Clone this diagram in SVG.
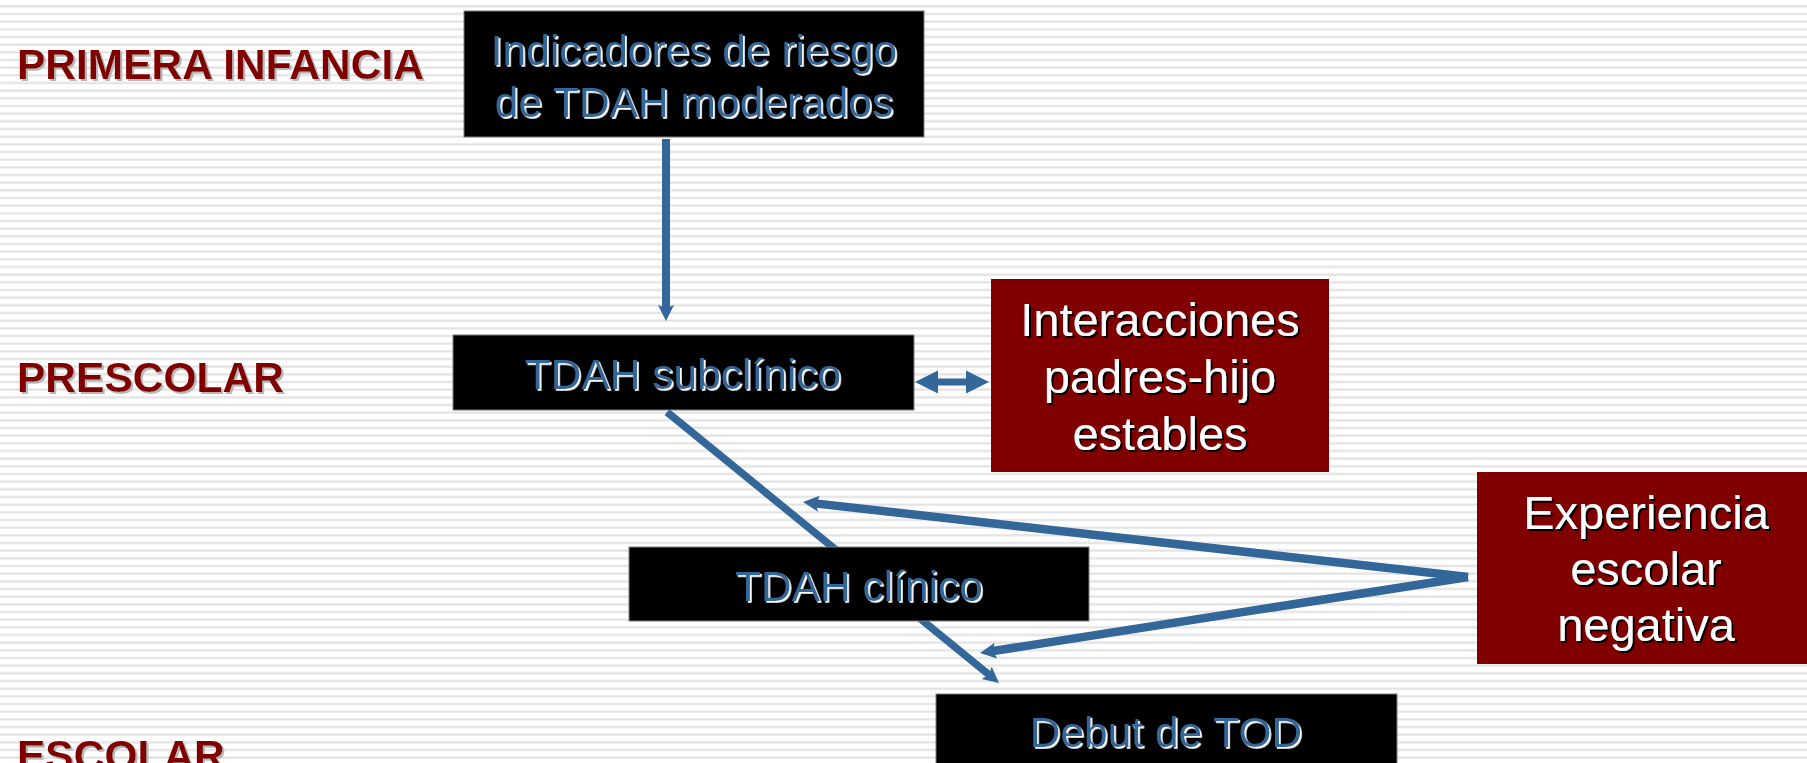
<svg xmlns="http://www.w3.org/2000/svg" width="1807" height="763" viewBox="0 0 1807 763">
  <defs>
    <pattern id="stripes" patternUnits="userSpaceOnUse" width="20" height="7.667" y="0">
      <rect x="0" y="0" width="20" height="7.667" fill="#ffffff"/>
      <rect x="0" y="5.2" width="20" height="2.2" fill="#e2e2e2"/>
    </pattern>
    <marker id="ah" markerUnits="userSpaceOnUse" markerWidth="20" markerHeight="20" refX="6" refY="8" orient="auto">
      <path d="M0,0 L16,8 L0,16 L3,8 Z" fill="#336699"/>
    </marker>
    <filter id="shW" x="-5%" y="-5%" width="110%" height="120%">
      <feDropShadow dx="1.8" dy="1.8" stdDeviation="0" flood-color="#ffffff" flood-opacity="1"/>
    </filter>
    <filter id="shK" x="-5%" y="-5%" width="110%" height="120%">
      <feDropShadow dx="2" dy="2" stdDeviation="0" flood-color="#000000" flood-opacity="1"/>
    </filter>
    <filter id="shG" x="-5%" y="-5%" width="110%" height="120%">
      <feDropShadow dx="2" dy="2" stdDeviation="0.5" flood-color="#b8b8b8" flood-opacity="1"/>
    </filter>
  </defs>
  <style>
    .stage { font-family: "Liberation Sans", Arial, sans-serif; font-weight: bold; font-size: 42.5px; fill: #800000; filter: url(#shG); }
    .bk { fill: #000000; stroke: #7f7f7f; stroke-width: 1; }
    .rd { fill: #800000; }
    .bt { font-family: "Liberation Sans", Arial, sans-serif; font-size: 42.5px; fill: #336699; text-anchor: middle; filter: url(#shW); }
    .wt { font-family: "Liberation Sans", Arial, sans-serif; font-size: 47px; fill: #ffffff; text-anchor: middle; filter: url(#shK); }
    .con { stroke: #336699; fill: none; stroke-linecap: butt; }
  </style>

  <rect x="0" y="0" width="1807" height="763" fill="url(#stripes)"/>

  <g id="stage-labels">
    <text class="stage" x="17" y="79">PRIMERA INFANCIA</text>
    <text class="stage" x="17" y="392">PRESCOLAR</text>
    <text class="stage" x="17" y="770">ESCOLAR</text>
  </g>

  <g id="connectors">
    <line class="con" x1="666" y1="139" x2="666" y2="311" stroke-width="8" marker-end="url(#ah)"/>
    <line class="con" x1="667" y1="412" x2="991.3" y2="676.7" stroke-width="7.5" marker-end="url(#ah)"/>
    <line class="con" x1="1468" y1="577" x2="812.9" y2="503.1" stroke-width="8.5" marker-end="url(#ah)"/>
    <line class="con" x1="1468" y1="577" x2="989.9" y2="651.5" stroke-width="8.5" marker-end="url(#ah)"/>
    <polygon fill="#336699" points="915,382 938,370.5 938,378.5 966,378.5 966,370.5 989,382 966,393.5 966,385.5 938,385.5 938,393.5"/>
  </g>

  <g id="node-indicadores">
    <rect class="bk" x="464" y="11" width="460" height="126"/>
    <text class="bt" x="694" y="65">Indicadores de riesgo</text>
    <text class="bt" x="694" y="117">de TDAH moderados</text>
  </g>

  <g id="node-subclinico">
    <rect class="bk" x="453" y="335" width="461" height="75"/>
    <text class="bt" x="683" y="389">TDAH subclínico</text>
  </g>

  <g id="node-interacciones">
    <rect class="rd" x="991" y="279" width="338" height="193"/>
    <text class="wt" x="1160" y="336">Interacciones</text>
    <text class="wt" x="1160" y="393">padres-hijo</text>
    <text class="wt" x="1160" y="450">estables</text>
  </g>

  <g id="node-clinico">
    <rect class="bk" x="629" y="547" width="460" height="74"/>
    <text class="bt" x="859" y="601">TDAH clínico</text>
  </g>

  <g id="node-experiencia">
    <rect class="rd" x="1477" y="472" width="340" height="192"/>
    <text class="wt" x="1646" y="529">Experiencia</text>
    <text class="wt" x="1646" y="585">escolar</text>
    <text class="wt" x="1646" y="641">negativa</text>
  </g>

  <g id="node-debut">
    <rect class="bk" x="936" y="694" width="461" height="80"/>
    <text class="bt" x="1166" y="747">Debut de TOD</text>
  </g>
</svg>
